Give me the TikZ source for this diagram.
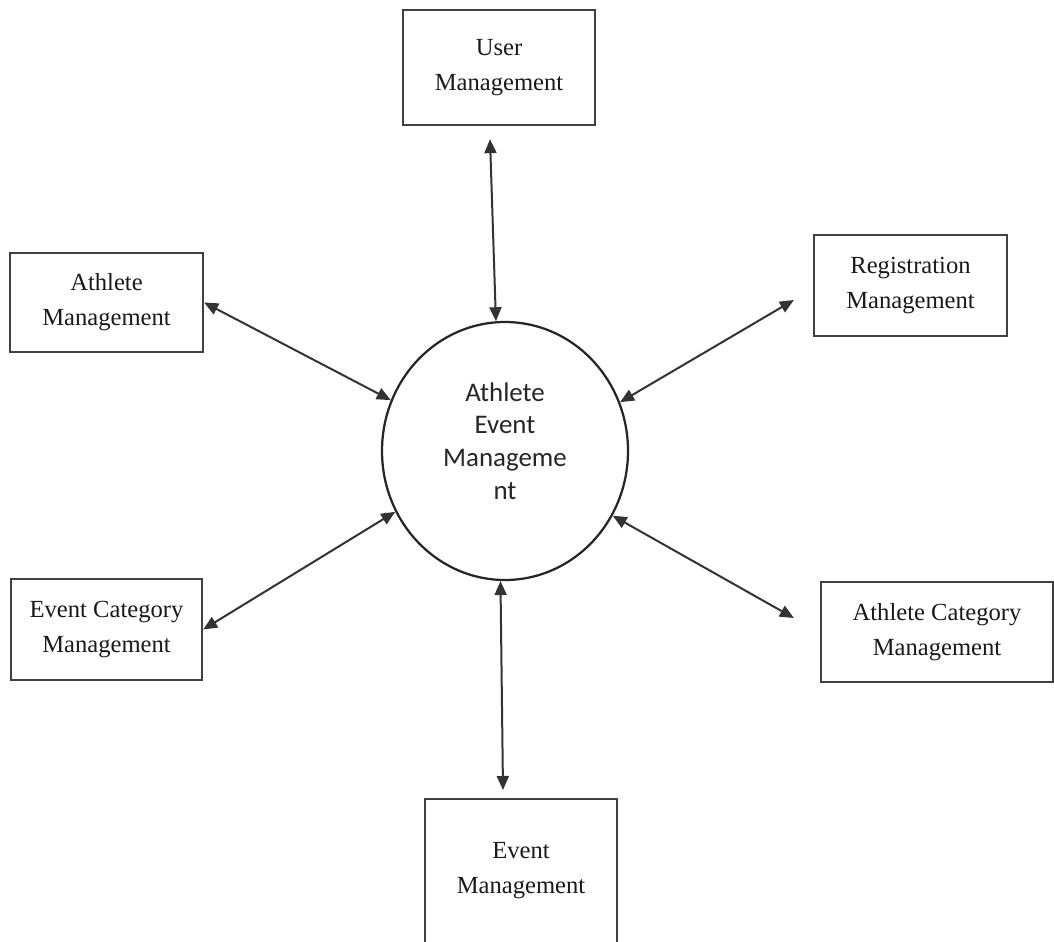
\documentclass[tikz,border=0pt]{standalone}
\usepackage{fontspec}
\setmainfont{Liberation Serif}
\newfontfamily\rondfont{Carlito}
\usetikzlibrary{arrows.meta,shapes.geometric}
\begin{document}
\begin{tikzpicture}
\tikzset{boite/.style={draw=black!75, line width=0.045cm, align=center, inner sep=0pt, text=black!90, font=\fontsize{14}{20}\selectfont}}
\tikzset{rond/.style={draw=black!85, line width=0.045cm, ellipse, minimum width=4.92cm, minimum height=5.16cm, inner sep=0pt}}
\tikzset{fleche/.style={<->, >={Triangle[length=0.28cm, width=0.24cm]}, line width=0.04cm, draw=black!80}}
\clip (0,0) rectangle (21.08,-18.82);
\node[boite, minimum width=3.84cm, minimum height=2.3cm] (U) at (9.98,-1.35) {User\\Management};
\node[boite, minimum width=3.86cm, minimum height=1.98cm] (A) at (2.13,-6.05) {Athlete\\Management};
\node[boite, minimum width=3.86cm, minimum height=2.02cm] (R) at (18.21,-5.71) {Registration\\Management};
\node[boite, minimum width=3.82cm, minimum height=2.02cm] (EC) at (2.13,-12.59) {Event Category\\Management};
\node[boite, minimum width=4.64cm, minimum height=2.0cm] (AC) at (18.74,-12.64) {Athlete Category\\Management};
\node[boite, minimum width=3.84cm, minimum height=3.4cm, anchor=north] (E) at (10.42,-15.96) {};
\node[align=center, text=black!90, font=\fontsize{14}{20}\selectfont] (Et) at (10.42,-17.42) {Event\\Management};
\node[rond] (H) at (10.10,-9.02) {};
\node[align=center, text=black!85, font=\rondfont\fontsize{15.3}{18.5}\selectfont] (Ht) at (10.10,-8.82) {Athlete\\Event\\Manageme\\nt};
\draw[fleche] ([xshift=-0.18cm, yshift=-0.26cm]U.south) -- (H.94.4);
\draw[fleche] (A.east) -- (H.156.3);
\draw[fleche] ([xshift=-0.38cm, yshift=-0.29cm]R.west) -- (H.23.4);
\draw[fleche] (EC.east) -- (H.209.5);
\draw[fleche] ([xshift=-0.52cm, yshift=0.28cm]AC.west) -- (H.329.4);
\draw[fleche] ([xshift=-0.36cm, yshift=0.16cm]E.north) -- (H.268.3);
\end{tikzpicture}
\end{document}
